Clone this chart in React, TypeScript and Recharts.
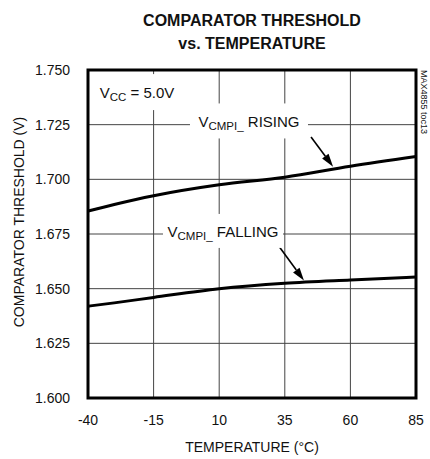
import { LineChart, Line, XAxis, YAxis, CartesianGrid, ReferenceArea, ReferenceDot, ReferenceLine } from 'recharts'

const temps = [-40, -30, -15, 10, 35, 60, 85]
const rising = [1.6855, 1.6885, 1.6925, 1.6975, 1.701, 1.706, 1.7104]
const falling = [1.642, 1.6435, 1.646, 1.65, 1.6525, 1.654, 1.6553]

const xTicks = [-40, -15, 10, 35, 60, 85]
const yTicks = [1.6, 1.625, 1.65, 1.675, 1.7, 1.725, 1.75]

const data = temps.map((t, i) => ({ t, rising: rising[i], falling: falling[i] }))

const FONT = '"Liberation Sans", Arial, Helvetica, sans-serif'

// label box: w/h in px, centred on the dot
const labelBox = (main: string, sub: string, rest: string, w: number, h: number) => (p: any) => {
    const { cx, cy } = p
    return (
        <g>
            <rect x={cx - w / 2} y={cy - h / 2} width={w} height={h} fill="#fff" />
            <text x={cx} y={cy + 6} textAnchor="middle" fontFamily={FONT} fontSize={15} fill="#111">
                <tspan>{main}</tspan>
                <tspan fontSize={11.5} dy={3}>{sub}</tspan>
                <tspan dy={-3}>{rest}</tspan>
            </text>
        </g>
    )
}

const arrow = (p: any) => {
    const { x1, y1, x2, y2 } = p
    const a = Math.atan2(y2 - y1, x2 - x1)
    const len = 13
    const hw = 4
    const bx = x2 - len * Math.cos(a)
    const by = y2 - len * Math.sin(a)
    const px = -Math.sin(a) * hw
    const py = Math.cos(a) * hw
    return (
        <g>
            <line x1={x1} y1={y1} x2={bx} y2={by} stroke="#000" strokeWidth={1.6} />
            <polygon points={`${x2},${y2} ${bx + px},${by + py} ${bx - px},${by - py}`} fill="#000" />
        </g>
    )
}

export default function App() {
    return (
        <div style={{ position: 'absolute', left: 0, top: 0, width: 430, height: 459, background: '#fff' }}>
            <LineChart
                width={430}
                height={459}
                data={data}
                margin={{ top: 70, right: 14, bottom: 31, left: 0 }}
            >
                <CartesianGrid stroke="#444" strokeWidth={1} />
                <XAxis
                    dataKey="t"
                    type="number"
                    domain={[-40, 85]}
                    ticks={xTicks}
                    axisLine={false}
                    tickLine={false}
                    tickSize={0}
                    tickMargin={17}
                    height={30}
                    tick={{ fill: '#111', fontSize: 14, fontFamily: FONT }}
                />
                <YAxis
                    type="number"
                    domain={[1.6, 1.75]}
                    ticks={yTicks}
                    width={88}
                    axisLine={false}
                    tickLine={false}
                    tickSize={0}
                    tickMargin={18}
                    tickFormatter={(v: number) => v.toFixed(3)}
                    tick={{ fill: '#111', fontSize: 14, fontFamily: FONT }}
                />
                <ReferenceDot x={-21.3} y={1.7399} r={0} shape={labelBox('V', 'CC', ' = 5.0V', 80, 36)} />
                <ReferenceDot x={21.35} y={1.7267} r={0} shape={labelBox('V', 'CMPI_', ' RISING', 118, 35)} />
                <ReferenceDot x={11.45} y={1.6764} r={0} shape={labelBox('V', 'CMPI_', ' FALLING', 120, 34)} />
                <ReferenceLine segment={[{ x: 45, y: 1.7194 }, { x: 53.4, y: 1.7058 }]} shape={arrow} />
                <ReferenceLine segment={[{ x: 32.9, y: 1.6692 }, { x: 42.3, y: 1.6537 }]} shape={arrow} />
                <Line type="monotone" dataKey="rising" stroke="#000" strokeWidth={3} dot={false} isAnimationActive={false} />
                <Line type="monotone" dataKey="falling" stroke="#000" strokeWidth={3} dot={false} isAnimationActive={false} />
                <ReferenceArea x1={-40} x2={85} y1={1.6} y2={1.75} fill="none" stroke="#000" strokeWidth={3} ifOverflow="visible" />
            </LineChart>
            <svg width={430} height={459} style={{ position: 'absolute', left: 0, top: 0, pointerEvents: 'none' }}>
                <g fontFamily={FONT} fill="#111">
                    <text x={252} y={26} textAnchor="middle" fontSize={16} fontWeight="bold">COMPARATOR THRESHOLD</text>
                    <text x={252} y={49} textAnchor="middle" fontSize={16} fontWeight="bold">vs. TEMPERATURE</text>
                    <text x={252} y={452} textAnchor="middle" fontSize={14}>TEMPERATURE (°C)</text>
                    <text x={24} y={222} textAnchor="middle" fontSize={14} transform="rotate(-90 24 222)">COMPARATOR THRESHOLD (V)</text>
                    <text x={421} y={70} fontSize={9} transform="rotate(90 421 70)">MAX4855 toc13</text>
                </g>
            </svg>
        </div>
    )
}
